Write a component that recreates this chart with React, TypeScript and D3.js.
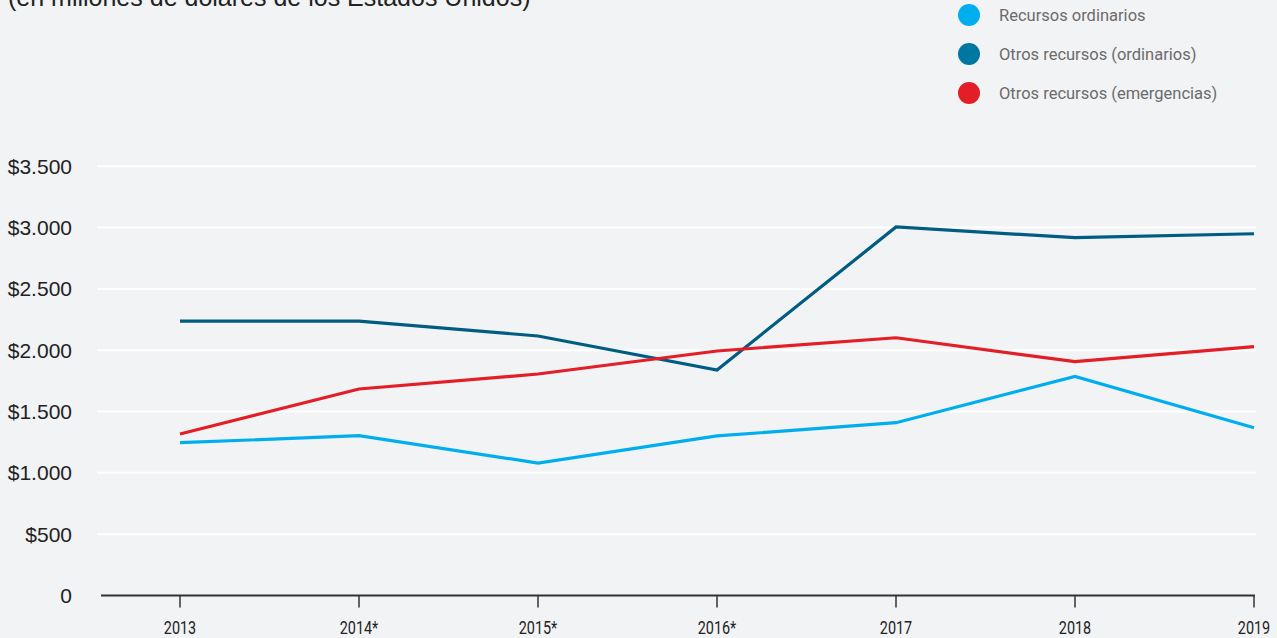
import React from "react";
import * as d3 from "d3";

const years = ["2013", "2014*", "2015*", "2016*", "2017", "2018", "2019"];
const recursosOrdinarios = [1246, 1303, 1080, 1301, 1409, 1787, 1368];
const otrosOrdinarios = [2238, 2238, 2116, 1839, 3005, 2918, 2950];
const otrosEmergencias = [1317, 1684, 1806, 1994, 2102, 1907, 2029];
const yTicks = [0, 500, 1000, 1500, 2000, 2500, 3000, 3500];

const seriesNames = ["Recursos ordinarios", "Otros recursos (ordinarios)", "Otros recursos (emergencias)"];
const lineColors = ["#00AEEF", "#005C80", "#E31E26"];
const legendColors = ["#00AEEF", "#0077A2", "#E31E26"];

const W = 1277;
const H = 638;

function fmt(v: number) {
  if (v === 0) return "0";
  const s = String(v);
  const t = s.length > 3 ? s.slice(0, s.length - 3) + "." + s.slice(s.length - 3) : s;
  return "$" + t;
}

export default function App() {
  const x = d3.scalePoint<string>().domain(years).range([180, 1254]);
  const y = d3.scaleLinear().domain([0, 3500]).range([595.5, 166.3]);
  const line = d3
    .line<number>()
    .x((_, i) => x(years[i]) as number)
    .y((d) => y(d));
  const all = [recursosOrdinarios, otrosOrdinarios, otrosEmergencias];

  return (
    <svg
      width={W}
      height={H}
      style={{ position: "absolute", left: 0, top: 0, background: "#F2F3F5" }}
      fontFamily="'Liberation Sans', Arial, sans-serif"
    >
      <rect x={0} y={0} width={W} height={H} fill="#F2F3F5" />
      <text x={8} y={6} fontSize={25} fill="#222">
        (en millones de dólares de los Estados Unidos)
      </text>

      {seriesNames.map((n, i) => (
        <g key={n} transform={`translate(969, ${15 + i * 39})`}>
          <circle r={11} fill={legendColors[i]} />
          <text x={30} y={5.5} fontSize={16.5} fill="#6B6B6B" fontFamily="Roboto, 'Liberation Sans', sans-serif">
            {n}
          </text>
        </g>
      ))}

      {yTicks.map((t) => (
        <g key={t}>
          {t > 0 && (
            <line x1={97} x2={1256} y1={y(t)} y2={y(t)} stroke="#FFFFFF" strokeWidth={2} />
          )}
          <text x={72} y={y(t)} dy="0.36em" textAnchor="end" fontSize={21} fill="#222">
            {fmt(t)}
          </text>
        </g>
      ))}

      <line x1={101} x2={1255} y1={y(0)} y2={y(0)} stroke="#333" strokeWidth={2} />
      {years.map((yr) => (
        <g key={yr} transform={`translate(${x(yr)}, 0)`}>
          <line y1={y(0)} y2={y(0) + 12} stroke="#333" strokeWidth={1.5} />
          <text
            transform={`translate(0, 634) scale(0.8, 1)`}
            textAnchor="middle"
            fontSize={18}
            fill="#222"
            fontFamily="Roboto, sans-serif"
          >
            {yr}
          </text>
        </g>
      ))}

      {all.map((s, i) => (
        <path
          key={i}
          d={line(s) || ""}
          fill="none"
          stroke={lineColors[i]}
          strokeWidth={3.2}
          strokeLinejoin="miter"
        />
      ))}
    </svg>
  );
}
